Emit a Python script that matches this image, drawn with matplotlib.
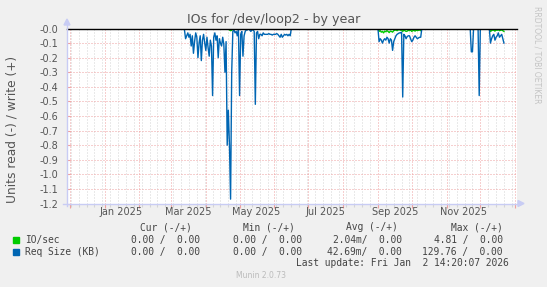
import numpy as np
import matplotlib
matplotlib.use("Agg")
import matplotlib.pyplot as plt
import matplotlib.dates as mdates
from matplotlib.ticker import MultipleLocator, FormatStrFormatter
from matplotlib.lines import Line2D
from matplotlib.patches import Polygon
from datetime import datetime, timedelta

# daily averages of the read side (drawn negative), day 0 = 2025-01-01
req_a_start = 70
req_a = [0.0, -0.01, -0.07, -0.05, -0.03, -0.06, -0.04, -0.12, -0.05, -0.17, -0.09,
         -0.03, -0.06, -0.20, -0.10, -0.05, -0.22, -0.08, -0.04, -0.10, -0.15,
         -0.06, -0.13, -0.19, -0.08, -0.12, -0.46, -0.06, -0.03, -0.08, -0.05,
         -0.20, -0.07, -0.10, -0.12, -0.06, -0.11, -0.30, -0.09, -0.80, -0.56,
         -0.80, -1.17, -0.30, -0.02, -0.01, -0.03, -0.02, -0.05, -0.01, -0.46,
         -0.04, -0.02, -0.19, -0.05, -0.02, -0.01, -0.01, 0.0, -0.01, -0.02,
         -0.01, -0.01, -0.02, -0.52, -0.03, -0.02, -0.07, -0.04, -0.04, -0.05,
         -0.03, -0.04, -0.04, -0.04, -0.04, -0.035, -0.04, -0.04, -0.045, -0.04,
         -0.04, -0.04, -0.035, -0.04, -0.05, -0.06, -0.04, -0.06, -0.05, -0.04,
         -0.045, -0.04, -0.05, -0.04, -0.05, 0.0]
req_b_start = 243
req_b = [0.0, -0.09, -0.07, -0.08, -0.10, -0.08, -0.07, -0.08, -0.06, -0.07,
         -0.10, -0.07, -0.08, -0.15, -0.09, -0.07, -0.05, -0.04, -0.035, -0.03,
         -0.03, -0.025, -0.47, -0.04, -0.05, -0.07, -0.055, -0.05, -0.05, -0.07,
         -0.09, -0.08, -0.06, -0.05, -0.06, -0.07, -0.065, -0.06, -0.06, 0.0]
req_c_start = 325
req_c = [0.0, -0.16, -0.16, 0.0, 0.0, 0.0, 0.0, 0.0, -0.46, 0.0]
req_d_start = 342
req_d = [0.0, -0.10, -0.07, -0.05, -0.04, -0.08, -0.06, -0.05, -0.03, -0.06,
         -0.05, -0.04, -0.07, -0.10]

io_a_start = 110
io_a = [0.0, -0.01, -0.015, -0.012, -0.006, 0.0]
io_b_start = 243
io_b = [0.0, -0.02, -0.015, -0.025, -0.02, -0.03, -0.018, -0.022, -0.015, -0.02,
        -0.028, -0.018, -0.02, -0.025, -0.015, -0.012, -0.01, -0.015, -0.01, -0.008,
        -0.012, -0.01, -0.02, -0.012, -0.015, -0.02, -0.018, -0.012, -0.015, -0.01,
        -0.02, -0.015, -0.012, -0.018, -0.01, -0.015, -0.012, -0.01, -0.015, 0.0]
io_d_start = 342
io_d = [0.0, -0.02, -0.015, -0.01, -0.012, -0.018, -0.01, -0.012, -0.008, -0.015,
        -0.012, -0.01, -0.015, -0.02]

month_labels = ["Jan 2025", "Mar 2025", "May 2025", "Jul 2025", "Sep 2025", "Nov 2025"]
label_dates = [datetime(2025, m, 16) for m in (1, 3, 5, 7, 9, 11)]

legend_names = ["IO/sec", "Req Size (KB)"]
legend_colors = ["#00CC00", "#0066B3"]
col_heads = ["Cur (-/+)", "Min (-/+)", "Avg (-/+)", "Max (-/+)"]
col_vals = [["0.00 /  0.00", "0.00 /  0.00", "2.04m/  0.00", "4.81 /  0.00"],
            ["0.00 /  0.00", "0.00 /  0.00", "42.69m/  0.00", "129.76 /  0.00"]]

end = datetime(2026, 1, 2, 14, 20, 7)
start = end - timedelta(days=400)
day0 = datetime(2025, 1, 1)


def seg(first, vals):
    return [day0 + timedelta(days=first + i) for i in range(len(vals))], vals


W, H = 547, 287
fig = plt.figure(figsize=(W / 100, H / 100), dpi=100)
fig.patch.set_facecolor("#F0F0F0")
ax = fig.add_axes([67 / W, 1 - 203.5 / H, 450 / W, 175 / H])
ax.set_facecolor("white")

for first, vals in [(io_a_start, io_a), (io_b_start, io_b), (io_d_start, io_d)]:
    d, v = seg(first, vals)
    ax.plot(d, v, color=legend_colors[0], lw=1.0)
for first, vals in [(req_a_start, req_a), (req_b_start, req_b),
                    (req_c_start, req_c), (req_d_start, req_d)]:
    d, v = seg(first, vals)
    ax.plot(d, v, color=legend_colors[1], lw=1.0)

ax.plot([start, end], [0, 0], color="black", lw=1.0, clip_on=False, zorder=5)

ax.set_xlim(start, end)
ax.set_ylim(-1.2, 0.0)
ax.yaxis.set_major_locator(MultipleLocator(0.1))
ax.yaxis.set_major_formatter(FormatStrFormatter("%.1f"))
ax.xaxis.set_major_locator(mdates.MonthLocator())
ax.xaxis.set_minor_locator(mdates.WeekdayLocator(byweekday=mdates.MO))
ax.xaxis.set_major_formatter(plt.NullFormatter())

red = "#EFA0A0"
gray = "#D4D4D4"
ax.grid(which="minor", axis="x", color=gray, lw=0.72, linestyle=(0, (1, 2)))
ax.grid(which="major", axis="both", color=red, lw=0.72, linestyle=(0, (1, 2)))
ax.set_axisbelow(True)
ax.tick_params(axis="x", which="major", direction="out", length=3, color=red, width=0.8)
ax.tick_params(axis="x", which="minor", direction="out", length=2, color=gray, width=0.8)
ax.tick_params(axis="y", direction="in", length=2, color=red, width=0.8, pad=6,
               labelsize=7, labelcolor="#555555")

for s in ["top", "right"]:
    ax.spines[s].set_visible(False)
for s in ["left", "bottom"]:
    ax.spines[s].set_visible(False)

for dt, lab in zip(label_dates, month_labels):
    ax.text(dt, -0.048, lab, transform=ax.get_xaxis_transform(), ha="center",
            va="center", fontsize=7, color="#555555")

# axis lines with arrows
axc = "#C8CCF4"
fig.add_artist(Line2D([67 / W, 67 / W], [1 - 206 / H, 1 - 24 / H], color=axc, lw=1))
fig.add_artist(Line2D([63 / W, 520 / W], [1 - 203.5 / H, 1 - 203.5 / H], color=axc, lw=1))
fig.add_artist(Polygon([[64 / W, 1 - 25 / H], [70 / W, 1 - 25 / H], [67 / W, 1 - 19 / H]],
                       closed=True, color=axc, transform=fig.transFigure))
fig.add_artist(Polygon([[518 / W, 1 - 200.5 / H], [518 / W, 1 - 206.5 / H], [524 / W, 1 - 203.5 / H]],
                       closed=True, color=axc, transform=fig.transFigure))

fig.text(0.5, 1 - 19 / H, "IOs for /dev/loop2 - by year", ha="center", va="center",
         fontsize=9.1, color="#555555")
fig.text(12 / W, 1 - 129 / H, "Units read (-) / write (+)", rotation=90, ha="center",
         va="center", fontsize=8.8, color="#555555")
fig.text(537 / W, 1 - 55 / H, "RRDTOOL / TOBI OETIKER", rotation=270, ha="center",
         va="center", fontsize=5.5, color="#C4C4C4")

mono = "DejaVu Sans Mono"
fs = 6.9
tc = "#444444"
head_right = [192, 295, 398, 503]
val_right = [200, 302, 402, 503]
for x, h in zip(head_right, col_heads):
    fig.text(x / W, 1 - 227 / H, h, ha="right", va="center", family=mono, fontsize=fs, color=tc)
for r, (name, colr) in enumerate(zip(legend_names, legend_colors)):
    y = 240 + r * 12
    fig.add_artist(Polygon([[13 / W, 1 - (y - 3) / H], [19 / W, 1 - (y - 3) / H],
                            [19 / W, 1 - (y + 3) / H], [13 / W, 1 - (y + 3) / H]],
                           closed=True, color=colr, transform=fig.transFigure))
    fig.text(25 / W, 1 - y / H, name, ha="left", va="center", family=mono, fontsize=fs, color=tc)
    for x, v in zip(val_right, col_vals[r]):
        fig.text(x / W, 1 - y / H, v, ha="right", va="center", family=mono, fontsize=fs, color=tc)
fig.text(509 / W, 1 - 263 / H, "Last update: Fri Jan  2 14:20:07 2026", ha="right",
         va="center", family=mono, fontsize=fs, color=tc)
fig.text(261 / W, 1 - 276 / H, "Munin 2.0.73", ha="center", va="center", fontsize=5.5,
         color="#BBBBBB")

fig.savefig("out.png", dpi=100, facecolor=fig.get_facecolor())
